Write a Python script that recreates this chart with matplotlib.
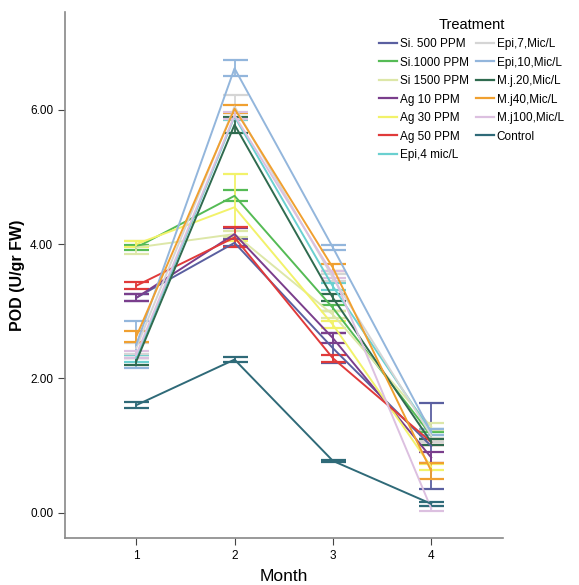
import numpy as np
import matplotlib
matplotlib.use("Agg")
import matplotlib.pyplot as plt

plt.rcParams['font.family'] = ['Liberation Sans', 'DejaVu Sans']

#%% data
months = [1, 2, 3, 4]

treatments = ["Si. 500 PPM", "Si.1000 PPM", "Si 1500 PPM", "Ag 10 PPM", "Ag 30 PPM",
              "Ag 50 PPM", "Epi,4 mic/L", "Epi,7,Mic/L", "Epi,10,Mic/L", "M.j.20,Mic/L",
              "M.j40,Mic/L", "M.j100,Mic/L", "Control"]

si500 = [3.20, 4.02, 2.45, 0.99]
si1000 = [3.95, 4.72, 3.05, 1.15]
si1500 = [3.95, 4.15, 2.95, 1.28]
ag10 = [3.20, 4.15, 2.60, 0.82]
ag30 = [4.00, 4.55, 2.80, 0.68]
ag50 = [3.38, 4.10, 2.30, 1.05]
epi4 = [2.30, 5.90, 3.37, 1.20]
epi7 = [2.45, 6.05, 3.50, 1.15]
epi10 = [2.50, 6.62, 3.95, 1.20]
mj20 = [2.25, 5.78, 3.20, 1.05]
mj40 = [2.62, 6.02, 3.65, 0.62]
mj100 = [2.35, 5.92, 3.55, 0.06]
control = [1.60, 2.28, 0.77, 0.13]

si500_err = [0.05, 0.05, 0.22, 0.64]
si1000_err = [0.04, 0.08, 0.05, 0.05]
si1500_err = [0.10, 0.05, 0.05, 0.05]
ag10_err = [0.05, 0.09, 0.07, 0.08]
ag30_err = [0.05, 0.50, 0.05, 0.05]
ag50_err = [0.05, 0.15, 0.05, 0.05]
epi4_err = [0.05, 0.05, 0.05, 0.05]
epi7_err = [0.08, 0.18, 0.05, 0.10]
epi10_err = [0.35, 0.12, 0.03, 0.05]
mj20_err = [0.05, 0.12, 0.05, 0.05]
mj40_err = [0.08, 0.06, 0.05, 0.12]
mj100_err = [0.05, 0.05, 0.05, 0.03]
control_err = [0.04, 0.04, 0.01, 0.03]

means = [si500, si1000, si1500, ag10, ag30, ag50, epi4, epi7, epi10, mj20, mj40, mj100, control]
errs = [si500_err, si1000_err, si1500_err, ag10_err, ag30_err, ag50_err, epi4_err, epi7_err,
        epi10_err, mj20_err, mj40_err, mj100_err, control_err]

cores = ["#5a5fa0", "#55bb55", "#dde7a8", "#7a3e8c", "#f2f26a", "#e03a3a", "#6ad0d0",
         "#d5d5d5", "#93b6dc", "#2f6b4f", "#f0a030", "#dcc0e0", "#2f6a78"]

#%% figura
fig = plt.figure(figsize=(5.79, 5.85), dpi=100)
ax = fig.add_axes([0.1123, 0.0803, 0.7564, 0.8992])

handles = []
for nome, m, e, c in zip(treatments, means, errs, cores):
    ax.errorbar(months, m, yerr=e, color=c, lw=1.4, elinewidth=1.3, capsize=9,
                capthick=1.6, zorder=2)
    h, = ax.plot([], [], color=c, lw=1.6, label=nome)
    handles.append(h)

ax.set_xlim(0.276, 4.73)
ax.set_ylim(-0.38, 7.46)
ax.set_xticks(months)
ax.set_yticks([0, 2, 4, 6])
ax.set_yticklabels(["0.00", "2.00", "4.00", "6.00"])
ax.tick_params(axis='both', labelsize=8.5, color='#444444', length=5, direction='out')

for s in ['top', 'right']:
    ax.spines[s].set_visible(False)
for s in ['left', 'bottom']:
    ax.spines[s].set_color('#888888')
    ax.spines[s].set_linewidth(1.2)

ax.set_xlabel("Month", fontsize=12.5, labelpad=5)
ax.set_ylabel("POD (U/gr FW)", fontsize=11.5, fontweight='bold', labelpad=4)

leg = fig.legend(handles=handles, ncol=2, title="Treatment", frameon=False,
                 loc='upper left', bbox_to_anchor=(0.637, 0.988), fontsize=8.5,
                 title_fontsize=10.5, handlelength=1.5, handletextpad=0.25,
                 columnspacing=0.6, labelspacing=0.55)

plt.savefig("out.png", dpi=100)
